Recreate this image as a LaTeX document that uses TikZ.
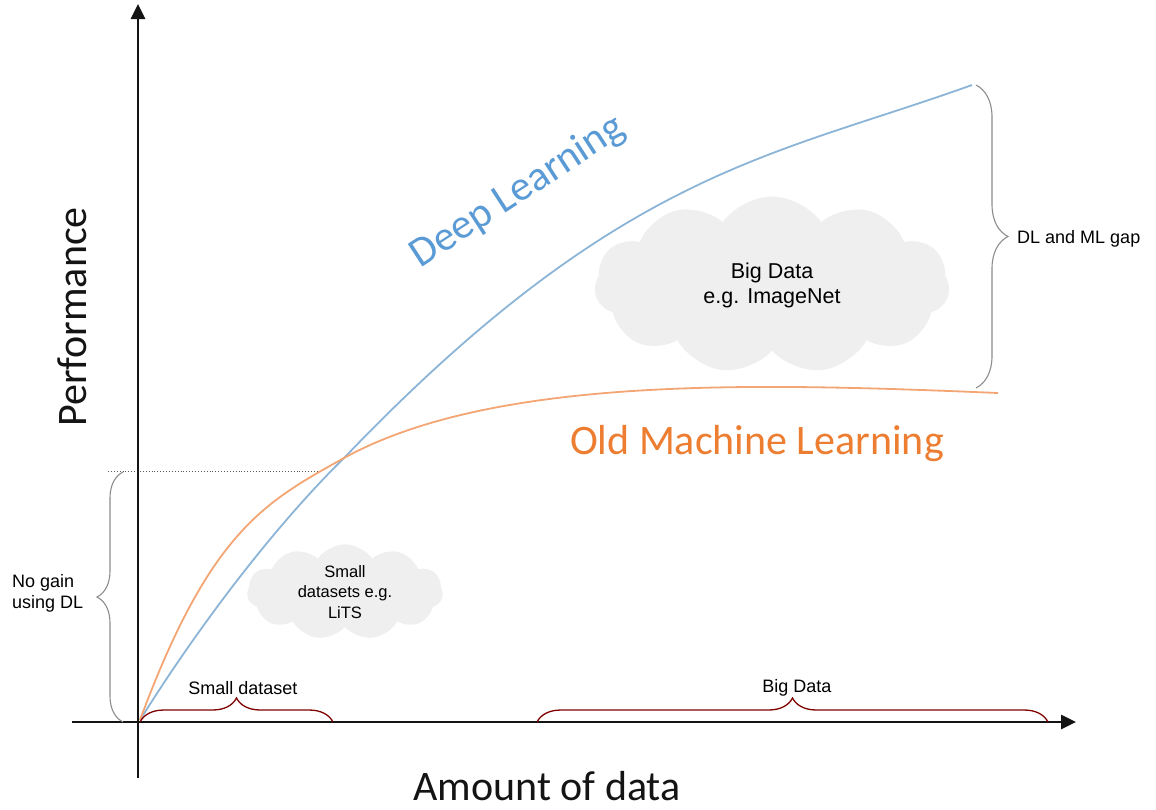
\documentclass[tikz,border=0pt]{standalone}
\usepackage{fontspec}
\setmainfont{Liberation Sans}
\newfontfamily\calibri{Carlito}
\usetikzlibrary{arrows.meta,decorations.pathreplacing,shapes.symbols}
\definecolor{dlblue}{RGB}{91,155,213}
\definecolor{dlline}{RGB}{140,180,215}
\definecolor{mlorange}{RGB}{237,125,49}
\definecolor{mlline}{RGB}{243,165,115}
\definecolor{cloudgray}{RGB}{239,239,239}
\definecolor{bracered}{RGB}{128,0,0}
\definecolor{bracegray}{RGB}{140,140,140}
\definecolor{axisblack}{RGB}{20,20,20}
\begin{document}
\begin{tikzpicture}[x=1pt,y=-1pt,
  axis/.style={draw=axisblack, line width=2.6pt, -{Triangle[length=15pt,width=14pt]}},
  bigtext/.style={font=\calibri\fontsize{42}{48}\selectfont, inner sep=0pt},
  smalltext/.style={font=\fontsize{18}{21}\selectfont, align=left, inner sep=0pt},
  cloudnode/.style={cloud, cloud puffs=11, cloud puff arc=110, aspect=2.1, fill=cloudgray, draw=none, align=center, inner sep=0pt},
  graybrace/.style={draw=bracegray, line width=1.1pt, decorate, decoration={brace, amplitude=#1}},
  redbrace/.style={draw=bracered, line width=1.3pt, decorate, decoration={brace, amplitude=#1}},
  curve/.style={line width=1.8pt},
]
\useasboundingbox (0,0) rectangle (1156,809);

% clouds
\node[cloudnode, minimum width=355pt, minimum height=177pt, font=\fontsize{21.5}{25}\selectfont] (bigcloud) at (772,285) {Big Data\\e.g. ImageNet};
\node[cloudnode, minimum width=196pt, minimum height=95pt, font=\fontsize{16.5}{20.5}\selectfont] (smallcloud) at (345,592) {Small\\datasets e.g.\\LiTS};

% dotted guide
\coordinate (dotL) at (108,471);
\coordinate (dotR) at (318,471);
\draw[dotted, line width=0.9pt, black!65] (dotL) -- (dotR);

% curves
\coordinate (origin) at (140,720);
\coordinate (cross) at (344,458);
\coordinate (dlend) at (972,85);
\coordinate (mlend) at (998,393);
\draw[curve, dlline] (origin) .. controls (200,624) and (275,526) .. (cross)
  .. controls (620,170) and (772,157) .. (dlend);
\draw[curve, mlline] (origin) .. controls (210,531) and (265,502) .. (cross)
  .. controls (495,375) and (760,383) .. (mlend);

% axes
\coordinate (xstart) at (72,722);
\coordinate (xend) at (1076,722);
\coordinate (ystart) at (138,778);
\coordinate (yend) at (138,4);
\draw[axis] (ystart) -- (yend);
\draw[axis] (xstart) -- (xend);

% braces
\coordinate (sdL) at (140,722);
\coordinate (sdR) at (333,722);
\coordinate (bdL) at (537,722);
\coordinate (bdR) at (1048,722);
\draw[redbrace=24] (sdL) -- (sdR);
\draw[redbrace=24] (bdL) -- (bdR);
\coordinate (ngB) at (123,722);
\coordinate (ngT) at (123,472);
\draw[graybrace=26] (ngB) -- (ngT);
\coordinate (gapT) at (976,85);
\coordinate (gapB) at (976,388);
\draw[graybrace=32] (gapT) -- (gapB);

% labels
\node[bigtext, rotate=90, text=axisblack] (perf) at (72,317) {Performance};
\node[bigtext, text=axisblack] (amount) at (547,786) {Amount of data};
\node[bigtext, text=mlorange] (oml) at (757,444) {Old Machine Learning};
\node[bigtext, text=dlblue, rotate=33] (dl) at (518,192) {Deep Learning};
\node[smalltext, anchor=west] (nogain) at (12,593) {No gain\\using DL};
\node[smalltext] (sdlabel) at (243,688) {Small dataset};
\node[smalltext] (bdlabel) at (797,688) {Big Data};
\node[smalltext, anchor=west] (gaplabel) at (1017,239) {DL and ML gap};
\end{tikzpicture}
\end{document}
